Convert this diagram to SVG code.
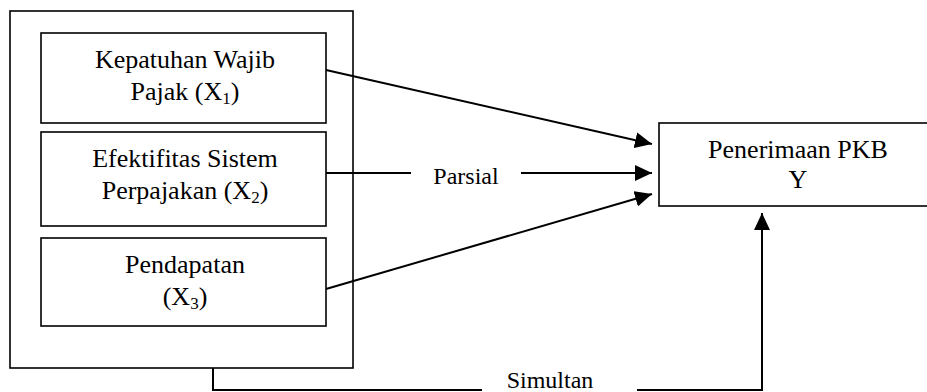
<svg xmlns="http://www.w3.org/2000/svg" width="927" height="392" viewBox="0 0 927 392">
<defs>
<style>
.box{fill:#fff;stroke:#000;stroke-width:1.6}
.ln{fill:none;stroke:#000;stroke-width:2}
text{font-family:"Liberation Serif","Times New Roman",serif;font-size:26px;fill:#000;text-anchor:middle}
.lbl{font-size:24px}
.sub{font-size:17px}
</style>
<marker id="ah" markerUnits="userSpaceOnUse" markerWidth="18" markerHeight="16" refX="17" refY="8" orient="auto">
<path d="M0,0 L17,8 L0,16 Z" fill="#000"/>
</marker>
</defs>
<g id="outer"><rect class="box" x="10" y="11" width="343" height="357"/></g>
<g id="x1"><rect class="box" x="41" y="33" width="285" height="90"/>
<text x="185" y="68">Kepatuhan Wajib</text>
<text x="185" y="100">Pajak (X<tspan class="sub" dy="4">1</tspan><tspan dy="-4">)</tspan></text></g>
<g id="x2"><rect class="box" x="41" y="132" width="285" height="94"/>
<text x="185" y="167">Efektifitas Sistem</text>
<text x="185" y="199">Perpajakan (X<tspan class="sub" dy="4">2</tspan><tspan dy="-4">)</tspan></text></g>
<g id="x3"><rect class="box" x="41" y="238" width="285" height="88"/>
<text x="185" y="273">Pendapatan</text>
<text x="185" y="305">(X<tspan class="sub" dy="4">3</tspan><tspan dy="-4">)</tspan></text></g>
<g id="y"><rect class="box" x="659" y="123" width="280" height="83"/>
<text x="798" y="158">Penerimaan PKB</text>
<text x="798" y="188">Y</text></g>
<g id="connectors">
<line class="ln" x1="326" y1="70" x2="652" y2="144" marker-end="url(#ah)"/>
<line class="ln" x1="326" y1="173" x2="411" y2="173"/>
<line class="ln" x1="521" y1="173" x2="652" y2="173" marker-end="url(#ah)"/>
<line class="ln" x1="326" y1="289" x2="652" y2="194" marker-end="url(#ah)"/>
<polyline class="ln" points="213,368 213,390 482,390"/>
<polyline class="ln" points="637,390 762,390 762,213" marker-end="url(#ah)"/>
<text class="lbl" x="550" y="388">Simultan</text>
<text class="lbl" x="466" y="184">Parsial</text>
</g>
</svg>
